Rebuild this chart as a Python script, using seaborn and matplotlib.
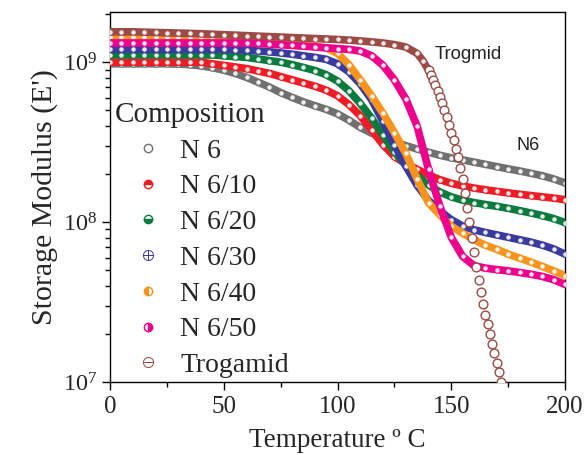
import numpy as np
import pandas as pd
import matplotlib
matplotlib.use("Agg")
import matplotlib.pyplot as plt
import seaborn as sns
from matplotlib.lines import Line2D
from matplotlib.ticker import LogLocator, LogFormatterMathtext, MultipleLocator, NullFormatter

# ---------------- data (log10 of storage modulus) ----------------
temperature = list(range(0, 205, 5))

log_n6 = [8.99, 8.99, 8.99, 8.99, 8.99, 8.99, 8.988, 8.985, 8.977, 8.966, 8.95, 8.93, 8.905,
          8.875, 8.845, 8.81, 8.78, 8.752, 8.728, 8.705, 8.677, 8.637, 8.592, 8.556, 8.527,
          8.502, 8.478, 8.457, 8.437, 8.418, 8.402, 8.389, 8.375, 8.361, 8.347, 8.333, 8.32,
          8.305, 8.29, 8.27, 8.245]
log_n6_10 = [9.0, 9.0, 9.0, 9.0, 9.0, 9.0, 9.0, 9.0, 9.0, 8.99, 8.98, 8.97, 8.96, 8.945, 8.93,
             8.91, 8.89, 8.87, 8.85, 8.825, 8.79, 8.735, 8.665, 8.575, 8.485, 8.41, 8.365,
             8.33, 8.295, 8.265, 8.243, 8.226, 8.213, 8.202, 8.192, 8.183, 8.174, 8.166,
             8.158, 8.15, 8.14]
log_n6_20 = [9.045, 9.045, 9.045, 9.045, 9.045, 9.045, 9.045, 9.045, 9.045, 9.045, 9.04,
             9.035, 9.03, 9.02, 9.01, 9.0, 8.985, 8.967, 8.948, 8.922, 8.882, 8.822, 8.742,
             8.65, 8.545, 8.44, 8.355, 8.29, 8.232, 8.188, 8.158, 8.137, 8.122, 8.11, 8.099,
             8.086, 8.072, 8.057, 8.041, 8.022, 7.997]
log_n6_30 = [9.08, 9.08, 9.08, 9.08, 9.08, 9.08, 9.08, 9.08, 9.08, 9.08, 9.08, 9.078, 9.075,
             9.07, 9.065, 9.058, 9.05, 9.04, 9.03, 9.018, 8.99, 8.94, 8.865, 8.765, 8.63,
             8.485, 8.35, 8.23, 8.135, 8.07, 8.015, 7.975, 7.952, 7.935, 7.92, 7.905, 7.89,
             7.875, 7.856, 7.832, 7.80]
log_n6_40 = [9.16, 9.16, 9.16, 9.16, 9.16, 9.16, 9.16, 9.16, 9.16, 9.16, 9.16, 9.16, 9.16,
             9.152, 9.143, 9.133, 9.122, 9.11, 9.10, 9.09, 9.055, 8.985, 8.89, 8.79, 8.68,
             8.56, 8.43, 8.27, 8.12, 8.045, 7.975, 7.93, 7.89, 7.855, 7.83, 7.80, 7.775,
             7.75, 7.723, 7.695, 7.665]
log_n6_50 = [9.12, 9.12, 9.12, 9.12, 9.12, 9.12, 9.12, 9.12, 9.12, 9.12, 9.12, 9.12, 9.12,
             9.117, 9.113, 9.109, 9.105, 9.10, 9.095, 9.09, 9.085, 9.08, 9.07, 9.04, 8.98,
             8.89, 8.77, 8.60, 8.33, 8.10, 7.905, 7.785, 7.728, 7.712, 7.703, 7.695, 7.685,
             7.674, 7.66, 7.64, 7.61]

temperature_trogamid = [0, 5, 10, 15, 20, 25, 30, 35, 40, 45, 50, 55, 60, 65, 70, 75, 80, 85,
                        90, 95, 100, 105, 110, 115, 120, 125, 130, 135, 137.5, 140, 141, 142,
                        143, 144, 145, 146, 147, 148, 149, 150, 151, 152, 153, 154, 155, 156,
                        157, 158, 159, 160, 161, 162, 163, 164, 165, 166, 167, 168, 169, 170,
                        171, 172, 173]
log_trogamid = [9.19, 9.19, 9.19, 9.188, 9.186, 9.184, 9.182, 9.18, 9.178, 9.175, 9.172, 9.169,
                9.166, 9.163, 9.16, 9.157, 9.154, 9.151, 9.148, 9.145, 9.142, 9.138, 9.133,
                9.127, 9.12, 9.11, 9.095, 9.055, 9.01, 8.95, 8.92, 8.89, 8.855, 8.82, 8.78,
                8.745, 8.70, 8.655, 8.61, 8.56, 8.515, 8.46, 8.405, 8.34, 8.27, 8.18, 8.09,
                8.0, 7.90, 7.81, 7.72, 7.64, 7.56, 7.49, 7.42, 7.36, 7.30, 7.24, 7.18, 7.12,
                7.06, 7.0, 6.94]

compositions = ["N 6", "N 6/10", "N 6/20", "N 6/30", "N 6/40", "N 6/50", "Trogamid"]
colors = ["#707070", "#ee1c24", "#0b7a3e", "#3a3a9e", "#f7941d", "#ec008c", "#9c4a45"]

series = [(temperature, log_n6), (temperature, log_n6_10), (temperature, log_n6_20),
          (temperature, log_n6_30), (temperature, log_n6_40), (temperature, log_n6_50),
          (temperature_trogamid, log_trogamid)]

frames = []
for name, (t, lv) in zip(compositions, series):
    frames.append(pd.DataFrame({"Temperature": t,
                                "E": np.power(10.0, np.array(lv)),
                                "Composition": name}))
df = pd.concat(frames, ignore_index=True)

# ---------------- style ----------------
sns.set_theme(style="ticks")
plt.rcParams["font.family"] = ["Liberation Serif", "DejaVu Serif"]
plt.rcParams["mathtext.fontset"] = "custom"
plt.rcParams["mathtext.rm"] = "Liberation Serif"
plt.rcParams["mathtext.default"] = "regular"

fig = plt.figure(figsize=(5.85, 4.55), dpi=100)
ax = fig.add_axes([110 / 585, 1 - 382 / 455, 455 / 585, 370 / 455])

for i, (name, col) in enumerate(zip(compositions, colors)):
    sub = df[df["Composition"] == name]
    if name != "Trogamid":
        sns.lineplot(data=sub, x="Temperature", y="E", color=col, lw=5.5,
                     estimator=None, sort=False, ax=ax, zorder=2 + i, legend=False)
        sns.scatterplot(data=sub, x="Temperature", y="E", color="white", edgecolor=col,
                        s=16, linewidth=0.8, alpha=0.9, ax=ax, zorder=2.5 + i, legend=False)
    else:
        flat = sub[sub["Temperature"] <= 141]
        sns.lineplot(data=flat, x="Temperature", y="E", color=col, lw=5.5,
                     estimator=None, sort=False, ax=ax, zorder=2 + i, legend=False)
        sns.scatterplot(data=flat, x="Temperature", y="E", color="white", edgecolor=col,
                        s=16, linewidth=0.8, alpha=0.9, ax=ax, zorder=2.5 + i, legend=False)
        steep = sub[sub["Temperature"] >= 140]
        sns.scatterplot(data=steep, x="Temperature", y="E", color="white", edgecolor=col,
                        s=40, linewidth=1.0, ax=ax, zorder=2.5 + i, legend=False)

ax.set_yscale("log")
ax.set_xlim(0, 200)
ax.set_ylim(1e7, 2.06e9)

ax.xaxis.set_major_locator(MultipleLocator(50))
ax.xaxis.set_minor_locator(MultipleLocator(25))
ax.yaxis.set_major_locator(LogLocator(base=10))
ax.yaxis.set_major_formatter(LogFormatterMathtext())
ax.yaxis.set_minor_locator(LogLocator(base=10, subs=np.arange(2, 10)))
ax.yaxis.set_minor_formatter(NullFormatter())

ax.tick_params(axis="both", which="major", direction="out", length=6, width=1,
               color="black", top=False, right=False)
ax.tick_params(axis="both", which="minor", direction="out", length=3.5, width=1,
               color="black", top=False, right=False)
ax.tick_params(axis="x", labelsize=18, pad=4)
ax.tick_params(axis="y", labelsize=17.5, pad=3)
for sp in ax.spines.values():
    sp.set_visible(True)
    sp.set_color("black")
    sp.set_linewidth(1.0)

ax.set_xlabel("Temperature º C", fontsize=19.5, labelpad=7)
ax.set_ylabel("Storage Modulus (E')", fontsize=21.5, labelpad=4)

ax.text(142.9, 1.12e9, "Trogmid", family=["Liberation Sans", "DejaVu Sans"],
        fontsize=13.4, va="center", ha="left", color="#222222")
ax.text(178.9, 3.0e8, "N6", family=["Liberation Sans", "DejaVu Sans"],
        fontsize=13, va="center", ha="left", color="#222222")

# legend
ms = 6
handles = [
    Line2D([], [], ls="none", marker="o", ms=ms, mfc="white", mec=colors[0], mew=1),
    Line2D([], [], ls="none", marker="o", ms=ms, fillstyle="top", mfc=colors[1],
           markerfacecoloralt="white", mec=colors[1], mew=1),
    Line2D([], [], ls="none", marker="o", ms=ms, fillstyle="bottom", mfc=colors[2],
           markerfacecoloralt="white", mec=colors[2], mew=1),
    Line2D([], [], ls="none", marker=r"$\oplus$", ms=8, color=colors[3], mew=0),
    Line2D([], [], ls="none", marker="o", ms=ms, fillstyle="left", mfc=colors[4],
           markerfacecoloralt="white", mec=colors[4], mew=1),
    Line2D([], [], ls="none", marker="o", ms=ms, fillstyle="right", mfc=colors[5],
           markerfacecoloralt="white", mec=colors[5], mew=1),
    Line2D([], [], ls="none", marker=r"$\ominus$", ms=8, color=colors[6], mew=0),
]
leg = ax.legend(handles, compositions, title="Composition", loc="upper left",
                bbox_to_anchor=(0.011, 0.757), frameon=False, fontsize=20,
                title_fontsize=21, handlelength=2.35, handletextpad=0.0,
                labelspacing=0.37, borderpad=0, borderaxespad=0, alignment="left")
leg.set_zorder(20)

fig.savefig("out.png", dpi=100)
